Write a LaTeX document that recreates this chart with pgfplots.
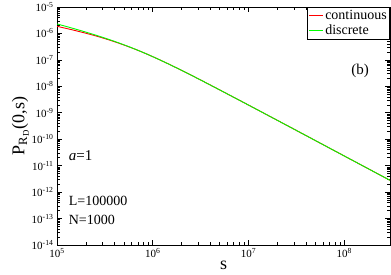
\documentclass[border=0pt]{standalone}
\usepackage{fontspec}
\setmainfont{Liberation Serif}
\usepackage{pgfplots}
\pgfplotsset{compat=1.18}
\begin{document}
\begin{tikzpicture}[x=1bp,y=1bp]
\path[use as bounding box] (-57bp,-30bp) rectangle (334bp,245bp);
\begin{axis}[
  at={(0,0)}, anchor=south west,
  scale only axis, width=333bp, height=238bp,
  xmode=log, ymode=log,
  xmin=1e5, xmax=3e8, ymin=1e-14, ymax=1e-5,
  axis line style={line width=0.8pt},
  tick style={black, line width=0.6pt},
  major tick length=5bp, minor tick length=3bp,
  tick align=inside,
  xtick={1e5,1e6,1e7,1e8},
  xticklabels={10\textsuperscript{5},10\textsuperscript{6},10\textsuperscript{7},10\textsuperscript{8}},
  ytick={1e-14,1e-13,1e-12,1e-11,1e-10,1e-9,1e-8,1e-7,1e-6,1e-5},
  yticklabels={10\textsuperscript{-14},10\textsuperscript{-13},10\textsuperscript{-12},10\textsuperscript{-11},10\textsuperscript{-10},10\textsuperscript{-9},10\textsuperscript{-8},10\textsuperscript{-7},10\textsuperscript{-6},10\textsuperscript{-5}},
  ticklabel style={font=\fontsize{11bp}{12bp}\selectfont},
  xlabel={s}, xlabel style={font=\fontsize{18bp}{20bp}\selectfont, yshift=4bp},
  ylabel={P\textsubscript{R\textsubscript{D}}(0,s)},
  ylabel style={font=\fontsize{18bp}{20bp}\selectfont, yshift=-4bp},
  legend style={at={(rel axis cs:1,1)}, anchor=north east, draw=black, line width=0.6pt,
    font=\fontsize{14bp}{14bp}\selectfont, inner sep=1bp, row sep=0bp, cells={anchor=west}},
  legend image code/.code={\draw[#1, line width=0.8pt] (0bp,0bp) -- (14bp,0bp);},
]
\addplot[red, line width=0.9pt, smooth] coordinates {
(100000,1.862e-6) (141254,1.396e-6) (199526,1.023e-6) (281838,7.24e-7) (398107,4.875e-7) (562341,3.126e-7) (794328,1.905e-7) (1122018,1.096e-7) (1584893,6.07e-8) (2511886,2.652e-8) (3981072,1.126e-8) (10000000,1.956e-9) (31622777,2.145e-10) (100000000,2.325e-11) (300000000,2.79e-12)
};
\addlegendentry{continuous}
\addplot[green, line width=0.9pt, smooth] coordinates {
(100000,2.29e-6) (141254,1.622e-6) (199526,1.128e-6) (281838,7.66e-7) (398107,5.03e-7) (562341,3.166e-7) (794328,1.905e-7) (1122018,1.096e-7) (1584893,6.07e-8) (2511886,2.652e-8) (3981072,1.126e-8) (10000000,1.956e-9) (31622777,2.145e-10) (100000000,2.325e-11) (300000000,2.79e-12)
};
\addlegendentry{discrete}
\node[anchor=center, font=\fontsize{15bp}{15bp}\selectfont] at (rel axis cs:0.91,0.73) {(b)};
\node[anchor=west, font=\fontsize{15bp}{15bp}\selectfont] at (rel axis cs:0.025,0.375) {\textit{a}=1};
\node[anchor=west, font=\fontsize{14bp}{14bp}\selectfont] at (rel axis cs:0.025,0.185) {L=100000};
\node[anchor=west, font=\fontsize{14bp}{14bp}\selectfont] at (rel axis cs:0.025,0.105) {N=1000};
\end{axis}
\end{tikzpicture}
\end{document}
